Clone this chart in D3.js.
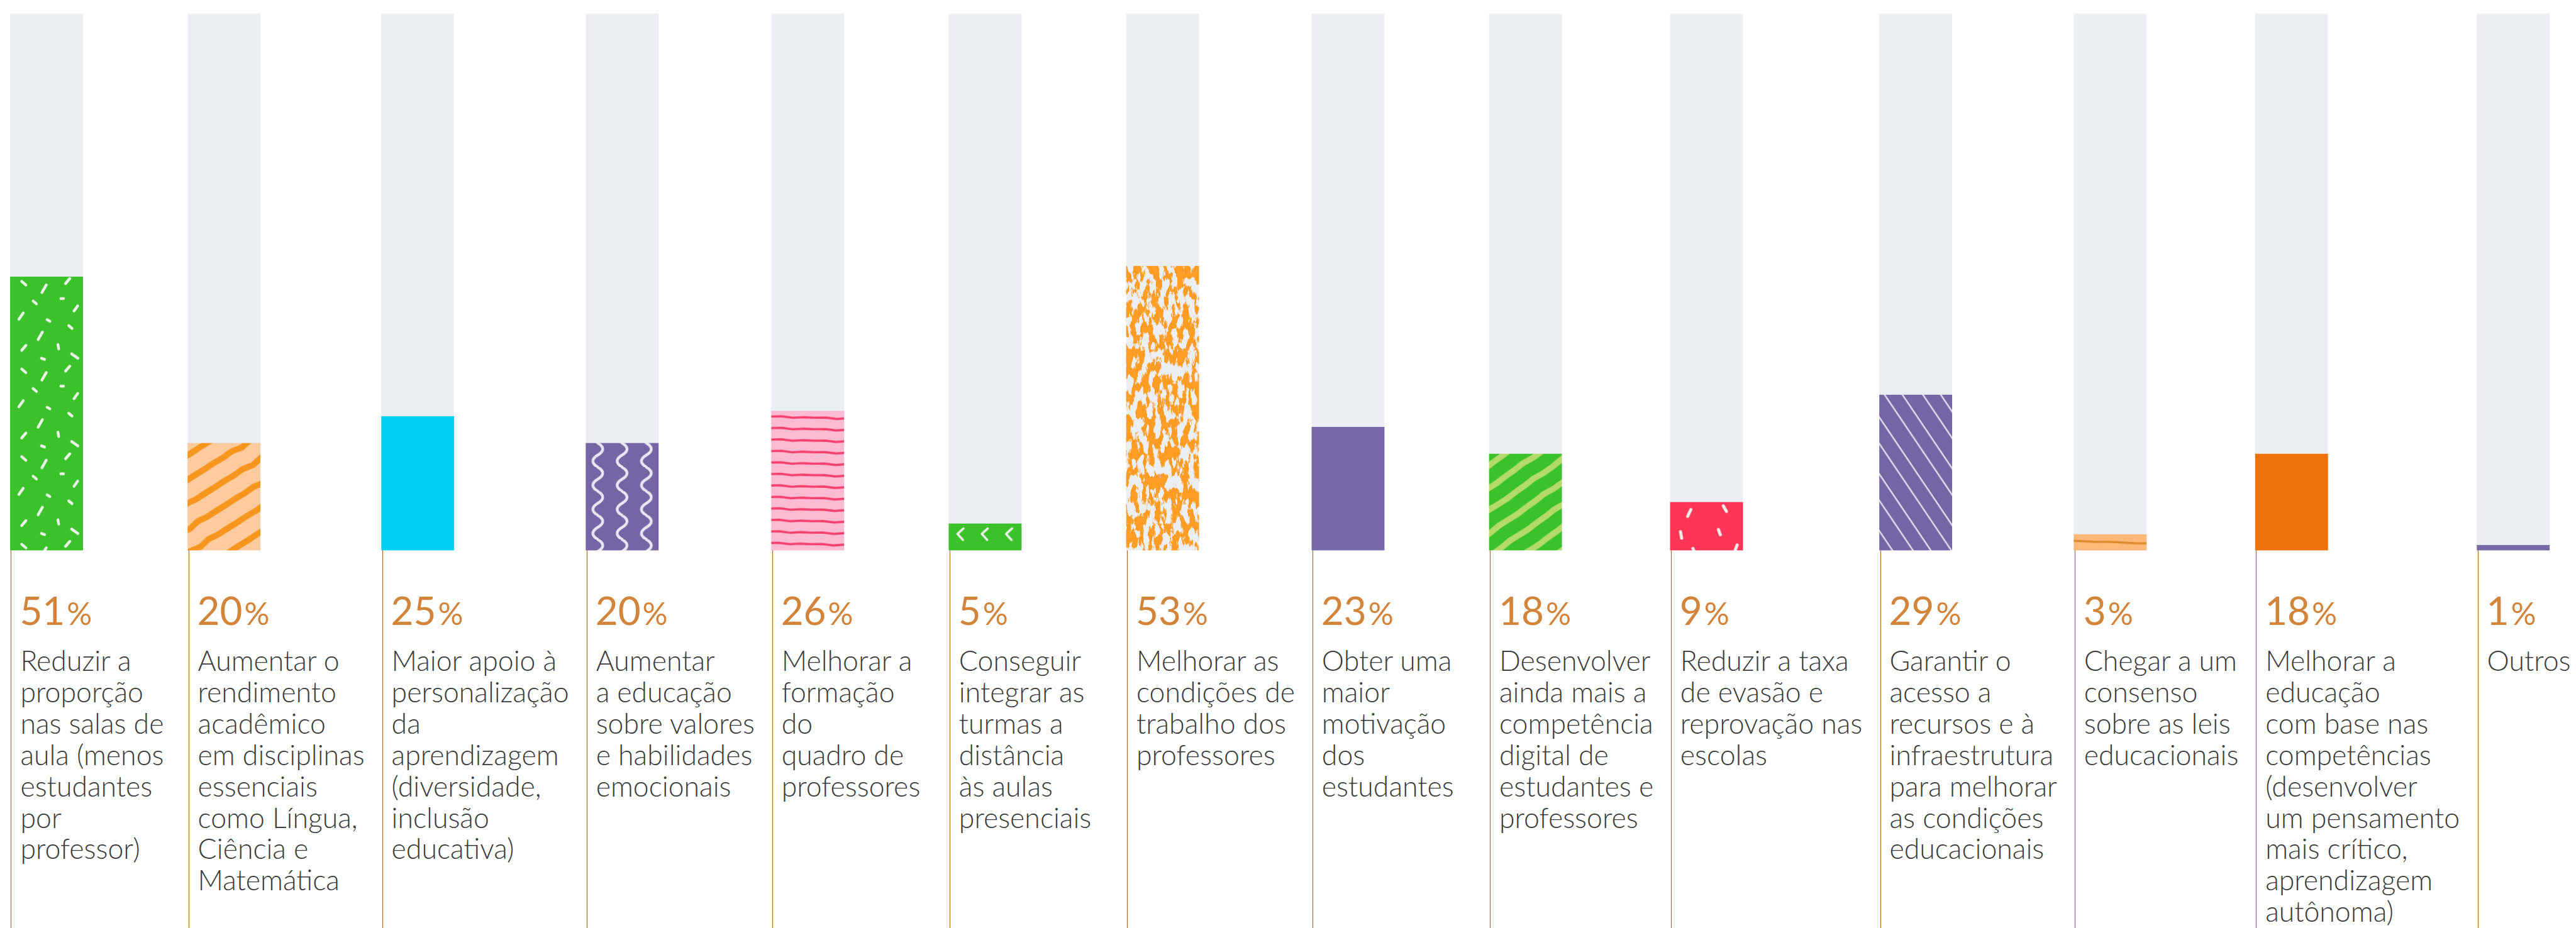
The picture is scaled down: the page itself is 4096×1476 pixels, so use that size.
<!DOCTYPE html>
<html><head><meta charset="utf-8">
<script src="https://cdn.jsdelivr.net/npm/d3@7"></script>
<style>html,body{margin:0;padding:0;background:#fff;overflow:hidden}</style>
</head><body>
<script>
// ---------- DATA ----------
const labelLines = [
  ["Reduzir a", "proporção", "nas salas de", "aula (menos", "estudantes", "por", "professor)"],
  ["Aumentar o", "rendimento", "acadêmico", "em disciplinas", "essenciais", "como Língua,", "Ciência e", "Matemática"],
  ["Maior apoio à", "personalização", "da", "aprendizagem", "(diversidade,", "inclusão", "educativa)"],
  ["Aumentar", "a educação", "sobre valores", "e habilidades", "emocionais"],
  ["Melhorar a", "formação", "do", "quadro de", "professores"],
  ["Conseguir", "integrar as", "turmas a", "distância", "às aulas", "presenciais"],
  ["Melhorar as", "condições de", "trabalho dos", "professores"],
  ["Obter uma", "maior", "motivação", "dos", "estudantes"],
  ["Desenvolver", "ainda mais a", "competência", "digital de", "estudantes e", "professores"],
  ["Reduzir a taxa", "de evasão e", "reprovação nas", "escolas"],
  ["Garantir o", "acesso a", "recursos e à", "infraestrutura", "para melhorar", "as condições", "educacionais"],
  ["Chegar a um", "consenso", "sobre as leis", "educacionais"],
  ["Melhorar a", "educação", "com base nas", "competências", "(desenvolver", "um pensamento", "mais crítico,", "aprendizagem", "autônoma)"],
  ["Outros"]
];
const values = [51, 20, 25, 20, 26, 5, 53, 23, 18, 9, 29, 3, 18, 1];
const categories = labelLines.map(l => l.join(" "));
const domainMax = 100;

// ---------- STYLES (decoration only) ----------
const S = 0.871, W = 4096, H = 1476;
const FONT = "Lato, 'Open Sans', sans-serif";
const confettiA = [[25,12,40,10],[62,22,-60,16],[105,8,-50,12],[45,47,40,8],[95,40,0,5],[120,58,-55,12],
  [20,72,-55,14],[70,80,30,6],[110,92,40,8],[55,108,-60,16],[25,130,-50,12],[88,128,80,8],[118,145,35,14],[60,150,20,6]];
const confettiB = [[35,20,-65,14],[100,12,60,12],[20,60,80,12],[90,55,70,10],[120,85,-70,14],[45,92,65,16],[15,120,40,10],[80,115,-45,10]];
const styles = [
  {type:"confetti", bg:"#3BC22B", fg:"#EDF1EA", tw:133, th:160, dashes:confettiA, sw:5},
  {type:"stripes", bg:"#FDCB9E", fg:"#F7961E", angle:-32, spacing:38, sw:11, rough:2.5},
  {type:"solid", bg:"#00D0F4"},
  {type:"waves", bg:"#7665A5", fg:"#E9E7F2"},
  {type:"stripes", bg:"#FDBAD3", fg:"#F43F6B", angle:1.5, spacing:21, sw:4, rough:1.2},
  {type:"chevrons", bg:"#3BC22B", fg:"#EDF1EA"},
  {type:"speckle", bg:"#EBEEF3", fg:"#FF9C24"},
  {type:"solid", bg:"#7869A8"},
  {type:"stripes", bg:"#3BC22B", fg:"#B3DA6B", angle:-35, spacing:34, sw:11, rough:2.5},
  {type:"confetti", bg:"#FF3558", fg:"#EDF1EA", tw:133, th:130, dashes:confettiB, sw:5.5},
  {type:"lines", bg:"#7665A5", fg:"#E2DFEC", angle:-34},
  {type:"stripes", bg:"#FEB877", fg:"#DF8A2E", angle:2, spacing:24, sw:4, rough:1.2},
  {type:"solid", bg:"#EE7109"},
  {type:"solid", bg:"#786AA7"}
];

const svg = d3.select("body").append("svg").attr("width", W).attr("height", H)
  .style("display","block").style("background","#fff");
const defs = svg.append("defs");

// ---------- SCALES ----------
const y = d3.scaleLinear().domain([0, domainMax]).range([1005*S, 25*S]);

const labelSize = 44.6, lineStep = 57.3*S, firstBase = 1225*S, pctBase = 1141*S;

// measure widest label line per column -> column pitch
const meas = svg.append("g").attr("visibility","hidden");
const widths = labelLines.map(lines => d3.max(lines, l => {
  const t = meas.append("text").attr("font-family",FONT).attr("font-weight",300)
    .attr("font-size",labelSize).text(l);
  return t.node().getComputedTextLength();
}));
meas.remove();
const gap = 45*S, minP = 320*S;
const cum = [0];
widths.slice(0,-1).forEach(w => cum.push(cum[cum.length-1] + Math.max(w+gap, minP)));
const layout = d3.scaleLinear().domain([0, cum[cum.length-1]]).range([20*S, 4523*S]);
const x = d3.scaleOrdinal().domain(categories).range(cum.map(layout));

const barW = 133*S;
const barX = c => x(c) - 1.5*S;

// ---------- PATTERNS ----------
function roughPath(len, yy, amp, seed) {
  const n = 12, pts = [];
  for (let k = 0; k <= n; k++) {
    const j = (k === 0 || k === n) ? 0 : amp*(Math.sin(k*1.7+seed)+Math.sin(k*3.1+seed*2))/2;
    pts.push([k*len/n, yy + j]);
  }
  return d3.line()(pts);
}
function makeFill(i, st, bx, by) {
  const id = "pat" + i;
  if (st.type === "solid") return st.bg;
  if (st.type === "speckle") {
    const f = defs.append("filter").attr("id", id).attr("x",0).attr("y",0).attr("width",1).attr("height",1)
      .attr("filterUnits","objectBoundingBox").attr("color-interpolation-filters","sRGB");
    f.append("feTurbulence").attr("type","fractalNoise").attr("baseFrequency","0.11 0.045")
      .attr("numOctaves",4).attr("seed",7).attr("result","n");
    f.append("feColorMatrix").attr("in","n").attr("type","matrix")
      .attr("values","0 0 0 0 1  0 0 0 0 0.612  0 0 0 0 0.14  13 0 0 0 -5.9").attr("result","c");
    f.append("feComposite").attr("in","c").attr("in2","SourceAlpha").attr("operator","in");
    return null;
  }
  const p = defs.append("pattern").attr("id", id).attr("patternUnits","userSpaceOnUse");
  let tw, th, extra = "";
  if (st.type === "confetti") {
    tw = st.tw; th = st.th;
    p.append("rect").attr("width",tw).attr("height",th).attr("fill",st.bg);
    st.dashes.forEach(([cx,cy,a,l]) => {
      const r = a*Math.PI/180, dx = Math.cos(r)*l/2, dy = Math.sin(r)*l/2;
      p.append("line").attr("x1",cx-dx).attr("y1",cy-dy).attr("x2",cx+dx).attr("y2",cy+dy)
        .attr("stroke",st.fg).attr("stroke-width",st.sw).attr("stroke-linecap","round");
    });
  } else if (st.type === "stripes") {
    tw = 240; th = st.spacing; extra = ` rotate(${st.angle})`;
    p.append("rect").attr("x",-1).attr("y",-1).attr("width",tw+2).attr("height",th+2).attr("fill",st.bg);
    p.append("path").attr("d", roughPath(tw, th/2, st.rough, i)).attr("fill","none")
      .attr("stroke",st.fg).attr("stroke-width",st.sw).attr("stroke-linecap","butt");
  } else if (st.type === "waves") {
    tw = 133/3; th = 44;
    p.append("rect").attr("width",tw).attr("height",th).attr("fill",st.bg);
    p.append("path").attr("d","M22,0 C34,7 34,15 22,22 C10,29 10,37 22,44").attr("fill","none")
      .attr("stroke",st.fg).attr("stroke-width",5).attr("stroke-linecap","round");
  } else if (st.type === "chevrons") {
    tw = 133/3; th = 48;
    p.append("rect").attr("width",tw).attr("height",th).attr("fill",st.bg);
    p.append("path").attr("d","M27,9 L16,19 L26,30").attr("fill","none")
      .attr("stroke",st.fg).attr("stroke-width",4).attr("stroke-linecap","round").attr("stroke-linejoin","round");
  } else if (st.type === "lines") {
    tw = 58; th = 100; extra = ` rotate(${st.angle})`;
    p.append("rect").attr("x",-1).attr("y",-1).attr("width",tw+2).attr("height",th+2).attr("fill",st.bg);
    [8, 35].forEach(lx => p.append("line").attr("x1",lx).attr("x2",lx).attr("y1",-1).attr("y2",th+1)
      .attr("stroke",st.fg).attr("stroke-width",2.8));
  }
  p.attr("width",tw).attr("height",th)
   .attr("patternTransform",`translate(${bx},${by}) scale(${S})${extra}`);
  return `url(#${id})`;
}

// ---------- BACKGROUND BARS ----------
svg.append("g").selectAll("rect").data(categories).join("rect")
  .attr("x", barX).attr("y", y(domainMax)).attr("width", barW)
  .attr("height", y(0) - y(domainMax)).attr("fill", "#EBEEF3");

// ---------- VALUE BARS ----------
const gBars = svg.append("g");
categories.forEach((c, i) => {
  const st = styles[i];
  const bx = barX(c), by = y(values[i]);
  const fill = makeFill(i, st, bx, by);
  const r = gBars.append("rect").attr("x", bx).attr("y", by).attr("width", barW)
    .attr("height", y(0) - by);
  if (st.type === "speckle") r.attr("fill", st.fg).attr("filter", `url(#pat${i})`);
  else r.attr("fill", fill);
});

// ---------- COLUMN RULES ----------
svg.append("g").selectAll("line").data(categories).join("line")
  .attr("x1", c => Math.round(x(c)) + 0.5).attr("x2", c => Math.round(x(c)) + 0.5)
  .attr("y1", y(0)).attr("y2", H)
  .attr("stroke", "#B0672A").attr("stroke-width", 1.2);

// ---------- VALUE LABELS ----------
const pct = svg.append("g").selectAll("text").data(categories).join("text")
  .attr("x", c => x(c) + 14).attr("y", pctBase)
  .attr("font-family", FONT).attr("fill", "#D2843A").attr("font-weight", 400);
pct.append("tspan").attr("font-size", 62).text((c,i) => values[i]);
pct.append("tspan").attr("font-size", 50).attr("dx", 3).text("%");

// ---------- CATEGORY LABELS ----------
const lab = svg.append("g").selectAll("text").data(categories).join("text")
  .attr("font-family", FONT).attr("font-weight", 300).attr("font-size", labelSize)
  .attr("fill", "#3B3B3B");
lab.each(function(c, i) {
  d3.select(this).selectAll("tspan").data(labelLines[i]).join("tspan")
    .attr("x", x(c) + 15).attr("y", (d, k) => firstBase + k*lineStep).text(d => d);
});
</script>
</body></html>
